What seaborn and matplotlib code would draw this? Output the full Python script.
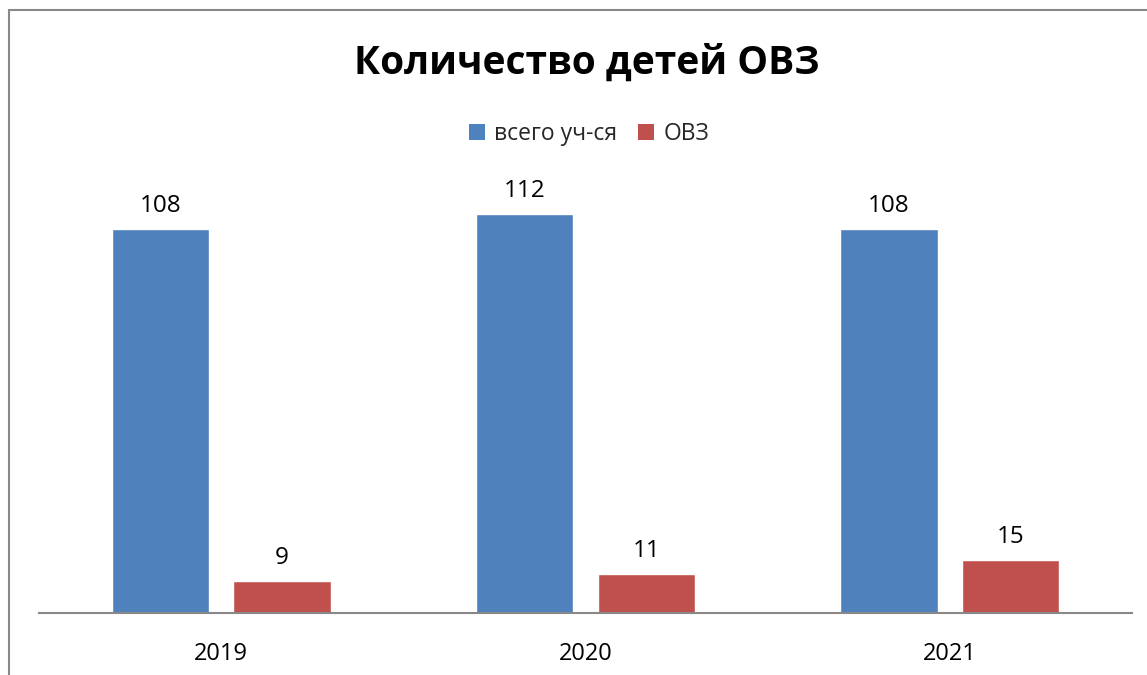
import matplotlib
matplotlib.use("Agg")
import matplotlib.pyplot as plt
import seaborn as sns
import pandas as pd
from matplotlib.patches import Rectangle, Patch

years = ["2019", "2020", "2021"]
total_students = [108, 112, 108]
ovz_students = [9, 11, 15]
series_names = ["всего уч-ся", "ОВЗ"]
title = "Количество детей ОВЗ"
colors = ["#4F81BD", "#C0504D"]

df = pd.DataFrame({
    "year": years * 2,
    "value": total_students + ovz_students,
    "series": [series_names[0]] * 3 + [series_names[1]] * 3,
})

sns.set_theme(style="white")
plt.rcParams["font.family"] = ["Open Sans", "DejaVu Sans"]

fig = plt.figure(figsize=(11.47, 6.75), dpi=100)
ax = fig.add_axes([39 / 1147, 62 / 675, (1132 - 39) / 1147, (613 - 186) / 675])

sns.barplot(data=df, x="year", y="value", hue="series", palette=colors,
            width=0.668, gap=0.2, ax=ax, saturation=1, legend=False)

for container in ax.containers:
    for bar in container:
        h = bar.get_height()
        ax.annotate(f"{int(h)}", (bar.get_x() + bar.get_width() / 2, h),
                    xytext=(0, 8), textcoords="offset points",
                    ha="center", va="bottom", fontsize=17.5, color="black")

ax.set_xlim(-0.5, 2.5)
ax.set_ylim(0, 120)
ax.set_xlabel("")
ax.set_ylabel("")
ax.set_yticks([])
ax.tick_params(axis="x", length=0, pad=21, labelsize=17, colors="black")
for s in ["top", "right", "left"]:
    ax.spines[s].set_visible(False)
ax.spines["bottom"].set_color("#888888")
ax.spines["bottom"].set_linewidth(1.5)

fig.text(587 / 1147, 1 - 63 / 675, title, ha="center", va="center",
         fontsize=28, fontweight="bold", color="black")

handles = [Patch(facecolor=c, edgecolor="none") for c in colors]
fig.legend(handles, series_names, loc="center", bbox_to_anchor=(589 / 1147, 1 - 134 / 675),
           ncol=2, frameon=False, fontsize=16.5, handlelength=0.7, handleheight=0.7,
           handletextpad=0.4, columnspacing=0.9)

fig.add_artist(Rectangle((9 / 1147, -0.05), 1.2, 1 - 10 / 675 + 0.05,
                         transform=fig.transFigure, fill=False,
                         edgecolor="#888888", linewidth=1.5))

fig.savefig("out.png", dpi=100)
